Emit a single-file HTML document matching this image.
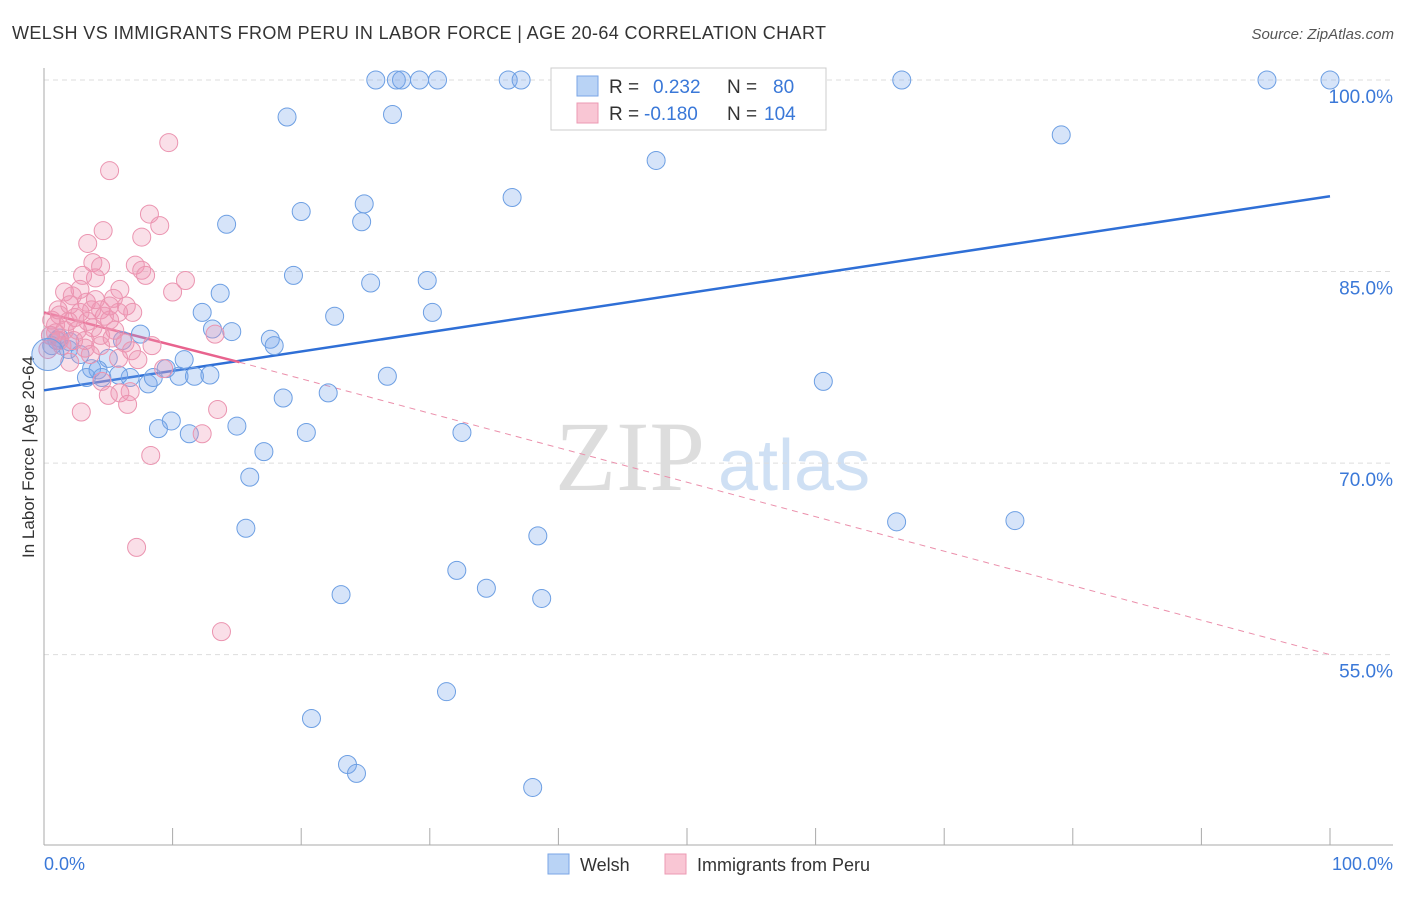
<!DOCTYPE html>
<html><head><meta charset="utf-8"><style>
body{margin:0;background:#fff;font-family:"Liberation Sans",sans-serif;}
svg text{font-family:"Liberation Sans",sans-serif;}
</style></head><body>
<svg id="chart" width="1406" height="892" xmlns="http://www.w3.org/2000/svg">
<text x="12" y="39" font-size="18" fill="#333" textLength="814" lengthAdjust="spacing">WELSH VS IMMIGRANTS FROM PERU IN LABOR FORCE | AGE 20-64 CORRELATION CHART</text>
<text x="1394" y="39" font-size="15" fill="#555" font-style="italic" text-anchor="end">Source: ZipAtlas.com</text>
<text x="555" y="490" font-size="100" fill="#ddd" font-family="Liberation Serif" style="font-family:'Liberation Serif',serif">ZIP</text>
<text x="718" y="490" font-size="72" fill="#cfe0f4">atlas</text>
<text transform="translate(34,457) rotate(-90)" font-size="17" fill="#333" text-anchor="middle">In Labor Force | Age 20-64</text>
<g id="grid"></g><g id="axes"></g><g id="trend"></g><g id="pts"></g>
<g>
<rect x="551" y="68" width="275" height="62" fill="#fff" stroke="#ccc"/>
<rect x="577" y="76" width="21" height="20" fill="#b9d3f5" stroke="#7aa6e6"/>
<rect x="577" y="103" width="21" height="20" fill="#f9c6d4" stroke="#ec9ab3"/>
<text x="609" y="93" font-size="19" fill="#333">R =</text><text x="653" y="93" font-size="19" fill="#3a78d8">0.232</text>
<text x="727" y="93" font-size="19" fill="#333">N =</text><text x="773" y="93" font-size="19" fill="#3a78d8">80</text>
<text x="609" y="120" font-size="19" fill="#333">R =</text><text x="644" y="120" font-size="19" fill="#3a78d8">-0.180</text>
<text x="727" y="120" font-size="19" fill="#333">N =</text><text x="764" y="120" font-size="19" fill="#3a78d8">104</text>
</g>
<g>
<rect x="548" y="854" width="21" height="20" fill="#b9d3f5" stroke="#7aa6e6"/>
<text x="580" y="871" font-size="18" fill="#333">Welsh</text>
<rect x="665" y="854" width="21" height="20" fill="#f9c6d4" stroke="#ec9ab3"/>
<text x="697" y="871" font-size="18" fill="#333">Immigrants from Peru</text>
</g>
</svg>
<script>
const welshX=[25.8,27.4,27.8,29.2,30.6,36.1,37.1,41.2,45.6,66.7,95.1,100,18.9,27.1,47.6,79.1,36.4,24.9,20.0,24.7,14.2,19.4,25.4,29.8,13.7,12.3,22.6,30.2,13.1,14.6,17.6,17.9,7.5,6.1,1.9,1.0,2.8,5.0,10.9,3.7,4.2,9.5,3.3,4.5,6.7,5.8,8.1,8.5,10.5,11.7,12.9,26.7,60.6,22.1,18.6,9.9,8.9,11.3,15.0,20.4,32.5,17.1,16.0,15.7,66.3,75.5,38.4,32.1,34.4,23.1,38.7,31.3,20.8,23.6,24.3,38.0,0.5,1.2,0.6,2.0];
const welshY=[100,100,100,100,100,100,100,100,100,100,100,100,97.1,97.3,93.7,95.7,90.8,90.3,89.7,88.9,88.7,84.7,84.1,84.3,83.3,81.8,81.5,81.8,80.5,80.3,79.7,79.2,80.1,79.6,78.9,79.6,78.5,78.2,78.1,77.4,77.3,77.4,76.7,76.7,76.7,76.9,76.2,76.7,76.8,76.8,76.9,76.8,76.4,75.5,75.1,73.3,72.7,72.3,72.9,72.4,72.4,70.9,68.9,64.9,65.4,65.5,64.3,61.6,60.2,59.7,59.4,52.1,50.0,46.4,45.7,44.6,80.0,79.8,79.2,79.5];
const peruX=[9.7,5.1,8.2,9.0,4.6,7.6,3.4,3.8,4.4,7.1,7.6,7.9,11.0,10.0,3.0,4.0,1.6,2.2,5.9,5.4,3.3,6.4,4.4,1.2,2.4,3.4,5.1,6.9,0.9,1.6,2.6,3.8,5.5,0.5,1.2,3.2,4.4,6.3,8.4,6.8,13.3,0.3,3.6,5.8,7.3,2.0,9.3,4.5,6.7,5.9,5.0,6.5,2.9,13.5,12.3,8.3,7.2,13.8,0.6,1.1,2.0,1.9,2.8,3.7,4.7,5.8,1.4,2.3,0.9,3.2,4.4,5.3,4.0,2.8,5.1];
const peruY=[95.1,92.9,89.5,88.6,88.2,87.7,87.2,85.7,85.4,85.5,85.1,84.7,84.3,83.4,84.7,84.5,83.4,83.1,83.6,82.9,82.6,82.3,82.0,81.6,81.4,81.1,81.2,81.8,80.8,80.4,80.4,80.6,80.4,80.0,79.6,79.6,79.2,79.4,79.2,78.8,80.1,78.9,78.5,78.2,78.1,77.9,77.4,76.4,75.6,75.5,75.3,74.6,74.0,74.2,72.3,70.6,63.4,56.8,81.2,82.0,82.4,81.1,81.8,82.0,81.5,81.8,79.2,79.6,80.2,79.0,80.0,79.8,82.8,83.6,82.3];
const yTicks=[100,85,70,55];
const blueTrend=[[0,75.7],[100,90.9]];
const pinkTrend=[[0,81.8],[15.2,77.9],[100,55]];
const NS='http://www.w3.org/2000/svg';
const X=v=>44+v*12.86, Y=v=>80+(100-v)*12.77;
function mk(t,a,p){const e=document.createElementNS(NS,t);for(const k in a)e.setAttribute(k,a[k]);document.getElementById(p).appendChild(e);return e;}
yTicks.forEach(t=>{
 const l=mk('line',{x1:44,x2:1393,y1:Y(t),y2:Y(t),stroke:'#ddd','stroke-dasharray':'5,4'},'grid');
 
 
 const tx=mk('text',{x:1393,y:Y(t)+23,'font-size':19,fill:'#3a78d8','text-anchor':'end'},'grid');
 
 
 tx.textContent=t.toFixed(1)+'%';
});
const ax=mk('line',{x1:44,x2:1393,y1:845,y2:845,stroke:'#aaa'},'axes');


const ay=mk('line',{x1:44,x2:44,y1:68,y2:845,stroke:'#aaa'},'axes');


for(let i=0;i<=10;i++){const t=mk('line',{x1:X(i*10),x2:X(i*10),y1:828,y2:845,stroke:'#aaa'},'axes');
 
 }
const xl=mk('text',{x:44,y:870,'font-size':18,fill:'#3a78d8'},'axes');xl.textContent='0.0%';


const xr=mk('text',{x:1393,y:870,'font-size':18,fill:'#3a78d8','text-anchor':'end'},'axes');xr.textContent='100.0%';


welshX.forEach((x,i)=>{const c=mk('circle',{cx:X(x),cy:Y(welshY[i]),r:9,fill:'rgba(120,165,235,0.3)',stroke:'#6d9fe3','stroke-width':1},'pts');
 
 });
peruX.forEach((x,i)=>{const c=mk('circle',{cx:X(x),cy:Y(peruY[i]),r:9,fill:'rgba(240,150,180,0.3)',stroke:'#eb94b0','stroke-width':1},'pts');
 
 });
const big=mk('circle',{cx:X(0.3),cy:Y(78.5),r:16,fill:'rgba(120,165,235,0.3)',stroke:'#6d9fe3'},'pts');


const bt=mk('line',{x1:X(blueTrend[0][0]),y1:Y(blueTrend[0][1]),x2:X(blueTrend[1][0]),y2:Y(blueTrend[1][1]),stroke:'#2f6fd6','stroke-width':2.5},'trend');


const ps=mk('line',{x1:X(pinkTrend[0][0]),y1:Y(pinkTrend[0][1]),x2:X(pinkTrend[1][0]),y2:Y(pinkTrend[1][1]),stroke:'#e8638e','stroke-width':2.5},'trend');


const pd=mk('line',{x1:X(pinkTrend[1][0]),y1:Y(pinkTrend[1][1]),x2:X(pinkTrend[2][0]),y2:Y(pinkTrend[2][1]),stroke:'#eb8fab','stroke-width':1,'stroke-dasharray':'6,5'},'trend');


</script>
</body></html>
